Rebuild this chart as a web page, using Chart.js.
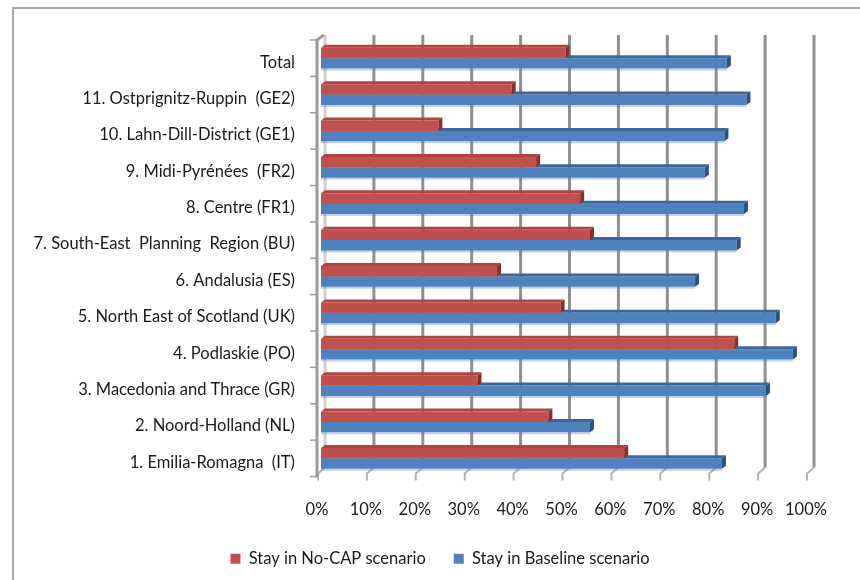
<!DOCTYPE html>
<html>
<head>
<meta charset="utf-8">
<script src="https://cdn.jsdelivr.net/npm/chart.js@4.4.1/dist/chart.umd.min.js"></script>
<style>
  html, body { margin: 0; padding: 0; background: #fff; }
  #wrap { width: 860px; height: 580px; }
</style>
</head>
<body>
<div id="wrap"><canvas id="chart" width="860" height="580"></canvas></div>
<script>
// regions, listed top to bottom as they appear on the axis
const regions = [
    'Total',
    '11. Ostprignitz-Ruppin  (GE2)',
    '10. Lahn-Dill-District (GE1)',
    '9. Midi-Pyrénées  (FR2)',
    '8. Centre (FR1)',
    '7. South-East  Planning  Region (BU)',
    '6. Andalusia (ES)',
    '5. North East of Scotland (UK)',
    '4. Podlaskie (PO)',
    '3. Macedonia and Thrace (GR)',
    '2. Noord-Holland (NL)',
    '1. Emilia-Romagna  (IT)'
];

// share of farms staying in business (%)
const stayNoCap    = [50, 39, 24, 44, 53, 55, 36, 49, 84.5, 32, 46.5, 62];
const stayBaseline = [83, 87, 82.5, 78.5, 86.5, 85, 76.5, 93, 96.5, 91, 55, 82];

const xTicks = [0, 10, 20, 30, 40, 50, 60, 70, 80, 90, 100];

const FONT = 'Lato, "Open Sans", sans-serif';
const FONT_SIZE = 16.5;
const depthX = 4, depthY = 3;   // fake 3D depth of the bars
const faceColors = [
    { top: '#b0443f', side: '#8a2f2c' },  // No-CAP
    { top: '#3b659b', side: '#2c5080' }   // Baseline
];

// frame, back-wall gridlines and the side wall
const wallPlugin = {
    id: 'wall',
    afterLayout(chart) {
        // let the long category names run past the scale box without clipping
        chart.scales.y.left = 0;
    },
    beforeDraw(chart) {
        const ctx = chart.ctx;
        ctx.save();
        ctx.strokeStyle = '#a8a8a8';
        ctx.lineWidth = 2;
        ctx.beginPath();
        ctx.moveTo(13, 580);
        ctx.lineTo(13, 8);
        ctx.lineTo(860, 8);
        ctx.stroke();
        ctx.restore();
    },
    beforeDatasetsDraw(chart) {
        const { ctx, chartArea: a, scales: { x } } = chart;
        ctx.save();
        x.ticks.forEach((t, i) => {
            const px = x.getPixelForValue(t.value) + depthX;
            ctx.strokeStyle = i === 0 ? '#cfcfcf' : '#8f8f8f';
            ctx.lineWidth = 3;
            ctx.beginPath();
            ctx.moveTo(px, a.top - 5);
            ctx.lineTo(px, a.bottom - 9);
            ctx.stroke();
            // little foot down to the floor
            ctx.strokeStyle = '#b3b3b3';
            ctx.lineWidth = 2;
            ctx.beginPath();
            ctx.moveTo(px, a.bottom - 9);
            ctx.lineTo(px - 7, a.bottom - 3);
            ctx.lineTo(px - 7, a.bottom + 4);
            ctx.stroke();
        });

        // side wall with category ticks
        const wx = a.left - 4;
        ctx.strokeStyle = '#9a9a9a';
        ctx.lineWidth = 3;
        ctx.beginPath();
        ctx.moveTo(wx + 7, a.top - 5);
        ctx.lineTo(wx, a.top);
        ctx.lineTo(wx, a.bottom + 1);
        ctx.stroke();
        ctx.lineWidth = 1.5;
        const step = a.height / regions.length;
        for (let i = 0; i <= regions.length; i++) {
            const yy = a.top + i * step;
            ctx.beginPath();
            ctx.moveTo(wx - 7, yy);
            ctx.lineTo(wx, yy);
            ctx.stroke();
        }
        ctx.restore();
    },
    afterDatasetDraw(chart, args) {
        const ctx = chart.ctx;
        const c = faceColors[args.index];
        ctx.save();
        args.meta.data.forEach(bar => {
            const { x, y, base, height } = bar.getProps(['x', 'y', 'base', 'height'], true);
            const top = y - height / 2, bottom = y + height / 2;
            ctx.fillStyle = c.top;
            ctx.beginPath();
            ctx.moveTo(base, top);
            ctx.lineTo(base + depthX, top - depthY);
            ctx.lineTo(x + depthX, top - depthY);
            ctx.lineTo(x, top);
            ctx.closePath();
            ctx.fill();
            ctx.fillStyle = c.side;
            ctx.beginPath();
            ctx.moveTo(x, top);
            ctx.lineTo(x + depthX, top - depthY);
            ctx.lineTo(x + depthX, bottom - depthY);
            ctx.lineTo(x, bottom);
            ctx.closePath();
            ctx.fill();
            if (args.index === 1) {
                ctx.fillStyle = 'rgba(79,129,189,0.35)';
                ctx.fillRect(base, bottom, x - base, 2);
            }
        });
        ctx.restore();
    }
};

new Chart(document.getElementById('chart'), {
    type: 'bar',
    data: {
        labels: regions,
        datasets: [
            {
                label: 'Stay in No-CAP scenario',
                data: stayNoCap,
                backgroundColor: '#c0504d',
                categoryPercentage: 0.57,
                barPercentage: 1
            },
            {
                label: 'Stay in Baseline scenario',
                data: stayBaseline,
                backgroundColor: '#4f81bd',
                categoryPercentage: 0.57,
                barPercentage: 1
            }
        ]
    },
    options: {
        indexAxis: 'y',
        responsive: false,
        animation: false,
        layout: { padding: { left: 70, right: 50, top: 40, bottom: 3 } },
        scales: {
            x: {
                min: 0,
                max: 100,
                afterBuildTicks: s => { s.ticks = xTicks.map(v => ({ value: v })); },
                afterFit: s => { s.height = 46; },
                grid: { display: false },
                border: { display: false },
                ticks: {
                    callback: v => v + '%',
                    color: '#1a1a1a',
                    font: { family: FONT, size: FONT_SIZE },
                    padding: 15,
                    labelOffset: -4,
                    maxRotation: 0
                }
            },
            y: {
                afterFit: s => { s.width = 251; },
                grid: { display: false },
                border: { display: false },
                ticks: {
                    color: '#1a1a1a',
                    font: { family: FONT, size: FONT_SIZE },
                    padding: 18,
                    labelOffset: 4,
                    autoSkip: false
                }
            }
        },
        plugins: {
            legend: {
                position: 'bottom',
                labels: {
                    boxWidth: 10,
                    boxHeight: 10,
                    padding: 28,
                    color: '#1a1a1a',
                    font: { family: FONT, size: FONT_SIZE }
                }
            },
            tooltip: { enabled: false }
        }
    },
    plugins: [wallPlugin]
});
</script>
</body>
</html>
